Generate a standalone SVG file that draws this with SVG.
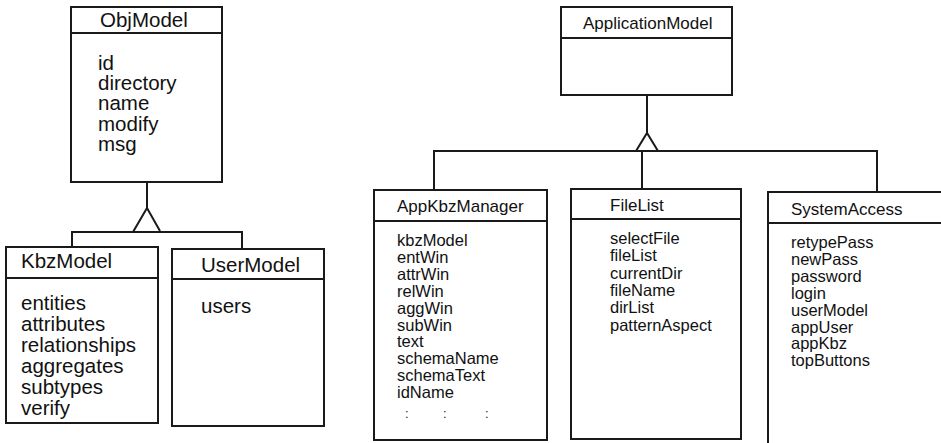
<svg xmlns="http://www.w3.org/2000/svg" width="941" height="443" viewBox="0 0 941 443">
  <style>
    .box { fill: #fff; stroke: #1a1a1a; stroke-width: 2; }
    .sep { stroke: #1a1a1a; stroke-width: 2; }
    .wire { fill: none; stroke: #1a1a1a; stroke-width: 2; stroke-linejoin: miter; }
    text { font-family: "Liberation Sans", Arial, Helvetica, sans-serif; fill: #111; }
    .tL { font-size: 20.5px; }
    .aL { font-size: 20.5px; }
    .tR { font-size: 17px; }
    .aR { font-size: 16.5px; }
    .dots { font-size: 13px; }
  </style>
  <rect width="941" height="443" fill="#fff"/>

  <!-- inheritance connectors -->
  <g id="connectors">
    <!-- ObjModel -> KbzModel, UserModel -->
    <path class="wire" d="M147 182 V208"/>
    <path class="wire" d="M133 232 L147 208 L160 231"/>
    <path class="wire" d="M72 247 V232 H242 V249"/>
    <!-- ApplicationModel -> AppKbzManager, FileList, SystemAccess -->
    <path class="wire" d="M647 95 V133"/>
    <path class="wire" d="M636 151 L647 133 L658 151"/>
    <path class="wire" d="M434 190 V151 H877 V192"/>
    <path class="wire" d="M642 151 V189"/>
  </g>

  <g id="ObjModel">
    <rect class="box" x="71" y="7" width="151" height="175"/>
    <line class="sep" x1="71" y1="33" x2="222" y2="33"/>
    <text class="tL" x="100" y="27">ObjModel</text>
    <text class="aL" x="98" y="70">id</text>
    <text class="aL" x="98" y="90.2">directory</text>
    <text class="aL" x="98" y="110.4">name</text>
    <text class="aL" x="98" y="130.6">modify</text>
    <text class="aL" x="98" y="150.8">msg</text>
  </g>

  <g id="KbzModel">
    <rect class="box" x="6" y="247" width="152" height="176"/>
    <line class="sep" x1="6" y1="278" x2="158" y2="278"/>
    <text class="tL" x="21" y="268">KbzModel</text>
    <text class="aL" x="21" y="310">entities</text>
    <text class="aL" x="21" y="331">attributes</text>
    <text class="aL" x="21" y="352">relationships</text>
    <text class="aL" x="21" y="373">aggregates</text>
    <text class="aL" x="21" y="394">subtypes</text>
    <text class="aL" x="21" y="415">verify</text>
  </g>

  <g id="UserModel">
    <rect class="box" x="172" y="249" width="152" height="177"/>
    <line class="sep" x1="172" y1="279" x2="324" y2="279"/>
    <text class="tL" x="201" y="272">UserModel</text>
    <text class="aL" x="201" y="313">users</text>
  </g>

  <g id="ApplicationModel">
    <rect class="box" x="561" y="7" width="171" height="88"/>
    <line class="sep" x1="561" y1="38" x2="732" y2="38"/>
    <text class="tR" x="583" y="29">ApplicationModel</text>
  </g>

  <g id="AppKbzManager">
    <rect class="box" x="374" y="190" width="173" height="250"/>
    <line class="sep" x1="374" y1="221" x2="547" y2="221"/>
    <text class="tR" x="397" y="212">AppKbzManager</text>
    <text class="aR" x="397" y="246">kbzModel</text>
    <text class="aR" x="397" y="262.9">entWin</text>
    <text class="aR" x="397" y="279.8">attrWin</text>
    <text class="aR" x="397" y="296.7">relWin</text>
    <text class="aR" x="397" y="313.6">aggWin</text>
    <text class="aR" x="397" y="330.5">subWin</text>
    <text class="aR" x="397" y="347.4">text</text>
    <text class="aR" x="397" y="364.3">schemaName</text>
    <text class="aR" x="397" y="381.2">schemaText</text>
    <text class="aR" x="397" y="398.1">idName</text>
    <text class="dots" x="405" y="418">:</text>
    <text class="dots" x="443" y="418">:</text>
    <text class="dots" x="485" y="418">:</text>
  </g>

  <g id="FileList">
    <rect class="box" x="571" y="189" width="170" height="250"/>
    <line class="sep" x1="571" y1="219" x2="741" y2="219"/>
    <text class="tR" x="610" y="211">FileList</text>
    <text class="aR" x="610" y="244">selectFile</text>
    <text class="aR" x="610" y="261.3">fileList</text>
    <text class="aR" x="610" y="278.6">currentDir</text>
    <text class="aR" x="610" y="295.9">fileName</text>
    <text class="aR" x="610" y="313.2">dirList</text>
    <text class="aR" x="610" y="330.5">patternAspect</text>
  </g>

  <g id="SystemAccess">
    <rect class="box" x="768" y="192" width="180" height="260"/>
    <line class="sep" x1="768" y1="223" x2="948" y2="223"/>
    <text class="tR" x="791" y="215">SystemAccess</text>
    <text class="aR" x="791" y="248">retypePass</text>
    <text class="aR" x="791" y="264.9">newPass</text>
    <text class="aR" x="791" y="281.8">password</text>
    <text class="aR" x="791" y="298.7">login</text>
    <text class="aR" x="791" y="315.6">userModel</text>
    <text class="aR" x="791" y="332.5">appUser</text>
    <text class="aR" x="791" y="349.4">appKbz</text>
    <text class="aR" x="791" y="366.3">topButtons</text>
  </g>
</svg>
